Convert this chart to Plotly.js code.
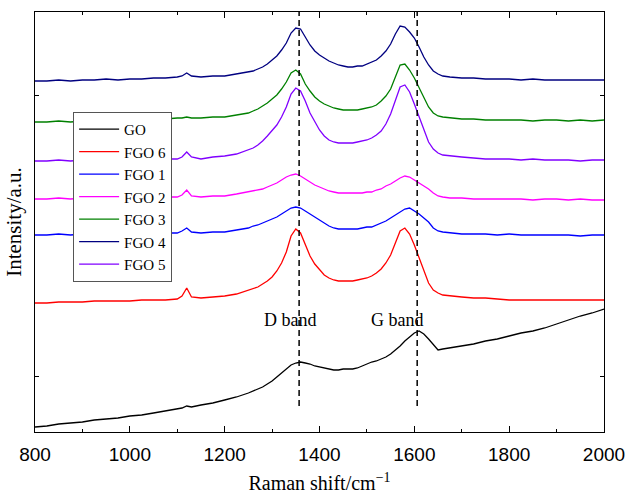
<!DOCTYPE html>
<html>
<head>
<meta charset="utf-8">
<script src="https://cdn.plot.ly/plotly-3.0.1.min.js"></script>
<style>html,body{margin:0;padding:0;background:#fff;}#chart{width:628px;height:496px;}</style>
</head>
<body>
<div id="chart"></div>
<script>
// Raman shift grid (cm^-1)
const ramanShift = [800,825,850,875,900,925,950,975,1000,1025,1050,1075,1100,1110,1120,1130,1150,1175,1200,1225,1250,
  1260,1270,1280,1290,1300,1310,1320,1330,1340,1350,1360,1370,1380,1390,1400,1410,1420,1430,1440,1450,
  1460,1470,1480,1490,1500,1510,1520,1530,1540,1550,1560,1570,1580,1590,1600,1610,1620,1630,1640,1650,1660,
  1675,1700,1725,1750,1775,1800,1825,1850,1875,1900,1925,1950,1975,2000];

// Intensities (a.u., offset stacked as in the figure)
const GO   = [5,6,8,9,10,12,13,14,16,17,19,21,23,24,26,25,27,29,32,35,39,
  41,43,45,48,51,55,59,63,67,69,70,69,68,66,65,64,63,62,62,63,63,63,64,66,68,70,71,73,75,78,82,86,91,95,99,101,98,93,87,82,83,
  84,86,88,91,93,96,99,101,104,108,112,116,119,123];
const FGO6 = [129,129,130,130,130,131,131,131,131,132,132,132,133,136,144,135,134,135,136,138,142,
  143,145,148,151,155,161,169,180,196,203,199,187,176,168,162,157,154,152,151,151,151,151,152,153,154,156,159,163,169,177,189,201,204,198,187,174,161,149,142,139,137,
  136,135,134,134,133,132,132,132,132,132,132,132,132,132];
const FGO1 = [197,197,198,197,198,198,198,198,199,198,199,199,199,201,204,200,199,200,200,202,204,
  206,207,209,211,213,215,218,221,224,225,224,221,218,215,212,209,206,204,203,203,203,203,203,204,205,205,207,209,211,214,217,220,223,224,221,218,214,210,204,201,200,
  199,198,198,198,197,198,197,197,197,197,197,196,197,197];
const FGO2 = [233,233,234,233,234,234,234,235,234,235,235,235,235,237,242,236,235,236,236,238,240,
  241,242,243,245,247,249,252,255,257,258,256,253,250,247,245,243,241,240,239,239,239,239,239,239,240,240,242,243,246,248,251,254,256,255,252,249,246,243,239,236,235,
  234,234,233,233,233,233,233,232,233,233,232,233,232,232];
const FGO3 = [310,310,311,310,311,311,312,311,312,312,313,313,314,314,315,314,314,315,315,317,319,
  321,323,326,329,333,337,343,350,359,362,358,348,341,335,331,328,326,324,323,322,322,322,322,323,324,325,327,331,336,343,355,367,368,362,354,344,334,325,319,316,315,
  314,313,313,312,312,312,312,311,312,312,311,312,311,312];
const FGO4 = [351,351,352,351,352,352,353,352,353,353,354,354,355,356,359,356,355,356,356,358,360,
  361,363,365,368,372,376,382,389,399,404,403,395,387,381,377,374,371,369,367,366,365,365,366,366,368,370,372,376,381,388,398,406,405,400,394,385,375,367,361,358,356,
  355,354,354,353,353,353,352,353,352,352,352,352,352,352];
const FGO5 = [271,271,272,271,272,272,272,272,273,272,273,273,273,275,280,275,273,275,276,278,282,
  284,287,291,296,301,307,315,325,338,344,341,331,319,310,302,296,292,290,289,289,289,289,290,291,292,294,297,301,308,318,332,345,347,340,328,316,302,290,283,279,277,
  276,275,274,273,273,273,272,273,272,272,272,271,272,272];

const seriesNames  = ['GO','FGO 6','FGO 1','FGO 2','FGO 3','FGO 4','FGO 5'];
const seriesValues = [GO, FGO6, FGO1, FGO2, FGO3, FGO4, FGO5];
const seriesColors = ['#000000','#ff0000','#0000ff','#ff00ff','#008000','#000080','#8000ff'];

// Band marker positions and labels
const bandPositions = [1357, 1606];
const bandLabels = ['D band', 'G band'];
const bandLabelX = [1338, 1565];
const bandLabelY = 112;
const bandLineBottom = 26;

const traces = seriesNames.map((n, i) => ({
  x: ramanShift, y: seriesValues[i], name: n, type: 'scatter', mode: 'lines',
  line: {color: seriesColors[i], width: 1.3}
}));

const serif = 'Liberation Serif, Times New Roman, serif';
const sans = 'Liberation Sans, Arial, sans-serif';

const layout = {
  width: 628, height: 496,
  margin: {l: 35, r: 24, t: 12, b: 64},
  paper_bgcolor: '#fff', plot_bgcolor: '#fff',
  showlegend: true,
  legend: {
    x: 0.067, y: 0.762, xanchor: 'left', yanchor: 'top',
    bgcolor: '#fff', bordercolor: '#555', borderwidth: 1,
    itemwidth: 40,
    font: {family: serif, size: 15, color: '#000'}
  },
  xaxis: {
    range: [800, 2000], dtick: 200, tick0: 800,
    ticks: 'inside', ticklen: 6, tickwidth: 1, tickcolor: '#000',
    minor: {dtick: 100, ticks: 'inside', ticklen: 3, tickcolor: '#000'},
    showline: true, linecolor: '#000', linewidth: 1.2, mirror: 'ticks',
    showgrid: false, zeroline: false,
    ticklabelstandoff: 5,
    tickfont: {family: sans, size: 19, color: '#000'},
    title: {text: 'Raman shift/cm<sup>−1</sup>', font: {family: serif, size: 20, color: '#000'}, standoff: 12}
  },
  yaxis: {
    range: [0, 420], tick0: 56, dtick: 281,
    ticks: 'inside', ticklen: 4, tickcolor: '#000',
    showticklabels: false,
    showline: true, linecolor: '#000', linewidth: 1.2, mirror: 'ticks',
    showgrid: false, zeroline: false,
    title: {text: 'Intensity/a.u.', font: {family: serif, size: 21, color: '#000'}, standoff: 6}
  },
  shapes: bandPositions.map(p => ({
    type: 'line', xref: 'x', yref: 'y', x0: p, x1: p, y0: bandLineBottom, y1: 420,
    line: {color: '#000', width: 1.5, dash: '6px,4px'}
  })),
  annotations: bandLabels.map((t, i) => ({
    x: bandLabelX[i], y: bandLabelY, xref: 'x', yref: 'y', text: t, showarrow: false,
    font: {family: serif, size: 18, color: '#000'}, bgcolor: 'rgba(0,0,0,0)'
  }))
};

Plotly.newPlot('chart', traces, layout, {staticPlot: true, displayModeBar: false});
</script>
</body>
</html>
